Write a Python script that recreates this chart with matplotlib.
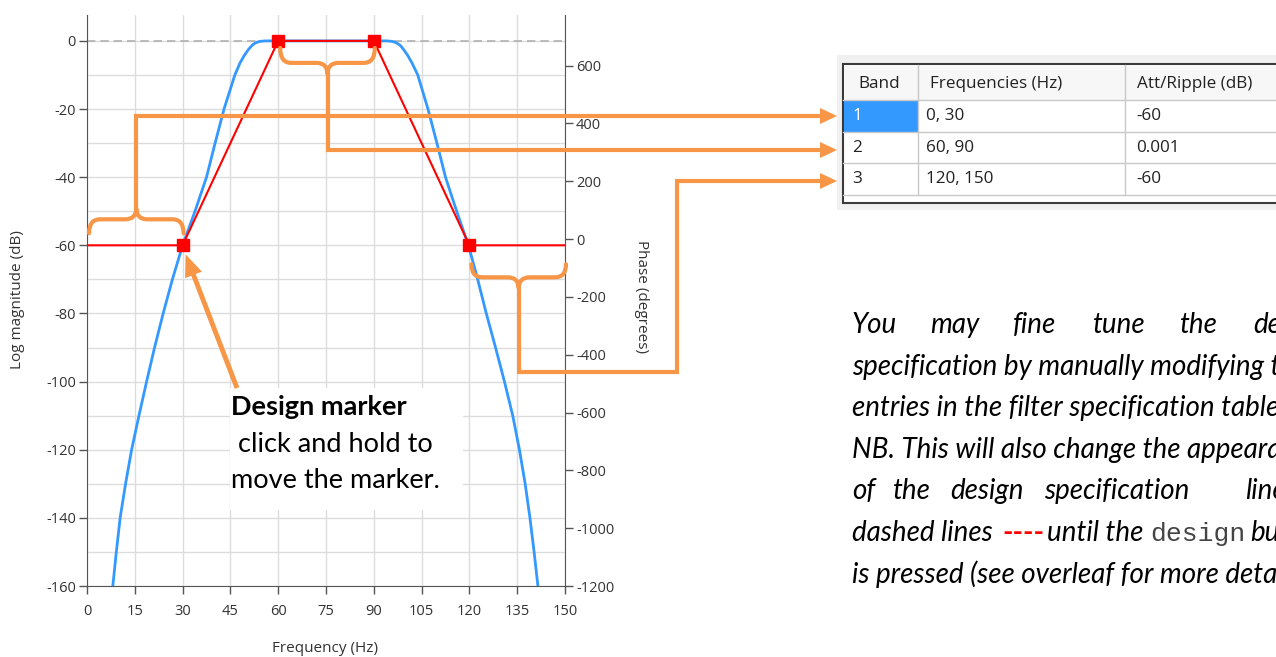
import matplotlib
matplotlib.use("Agg")
import matplotlib.pyplot as plt
from matplotlib.patches import Rectangle, Polygon, PathPatch
from matplotlib.path import Path

# design specification (red line + draggable markers)
spec_freq = [0, 30, 60, 90, 120, 150]
spec_mag = [-60, -60, 0, 0, -60, -60]
marker_freq = [30, 60, 90, 120]
marker_mag = [-60, 0, 0, -60]

# filter response (blue)
resp_freq = [8.1, 9.2, 10.4, 12.1, 14.0, 16.3, 18.7, 21.2, 23.9, 26.8, 30.0,
             33.9, 37.5, 40.2, 43.0, 44.7, 46.4, 48.0, 49.4, 50.6, 51.7, 52.8,
             54.2, 56.0, 60.0, 75.0, 90.0, 94.0, 95.8, 97.2, 98.4, 99.4, 100.6,
             102.0, 103.8, 105.4, 107.0, 109.8, 112.5, 116.0, 119.7, 122.6,
             125.3, 128.2, 131.0, 133.6, 135.7, 137.5, 139.0, 140.3, 141.5]
resp_mag = [-160, -150, -140, -130, -120, -110, -100, -90, -80, -70, -60,
            -50, -40, -30, -20, -15, -10, -6.5, -4.2, -2.6, -1.4, -0.6,
            -0.15, 0, 0, 0, 0, 0, -0.15, -0.6, -1.4, -2.6, -4.2,
            -6.5, -10, -15, -20, -30, -40, -50, -60, -70,
            -80, -90, -100, -110, -120, -130, -140, -150, -160]

# spec table
table_cols = ["Band", "Frequencies (Hz)", "Att/Ripple (dB)"]
band_ids = ["1", "2", "3"]
band_freqs = ["0, 30", "60, 90", "120, 150"]
band_att = ["-60", "0.001", "-60"]
band_edges = [(0, 30), (60, 90), (120, 150)]

W, H = 1276, 657
ORANGE = "#F79646"
TXT = "#333333"
plt.rcParams["font.family"] = ["Open Sans", "DejaVu Sans"]
plt.rcParams["axes.unicode_minus"] = False

fig = plt.figure(figsize=(W / 100, H / 100), dpi=100)
ax = fig.add_axes([87 / W, 71 / H, 478 / W, 571 / H])
ax.set_xlim(0, 150)
ax.set_ylim(-160, 7.6)
ax.set_xticks(range(0, 151, 15))
ax.set_yticks(range(-160, 1, 20))
ax.set_yticks(range(-150, 1, 20), minor=True)
ax.grid(True, which="both", color="#dcdcdc", lw=1)
ax.set_axisbelow(True)
ax.tick_params(which="major", length=6, width=1, color="#555555",
               labelcolor=TXT, labelsize=10.5, pad=2)
ax.tick_params(axis="x", pad=7)
ax.tick_params(which="minor", length=0)
for s in ["top", "right"]:
    ax.spines[s].set_visible(False)
for s in ["left", "bottom"]:
    ax.spines[s].set_color("#555555")

ax.axhline(0, color="#b0b0b0", lw=1.2, ls=(0, (5, 3)), zorder=1)
ax.plot(resp_freq, resp_mag, color="#3399FF", lw=2, zorder=3)
ax.plot(spec_freq, spec_mag, color="#FF0000", lw=1.5, zorder=4)
ax.plot(marker_freq, marker_mag, ls="none", marker="s", ms=9,
        color="#FF0000", zorder=5)

ax2 = ax.twinx()
ax2.set_ylim(-1200, 775)
ax2.set_yticks(range(-1200, 601, 200))
ax2.tick_params(length=6, width=1, color="#555555", labelcolor=TXT,
                labelsize=10.5, pad=2)
ax2.spines["top"].set_visible(False)
ax2.spines["left"].set_visible(False)
ax2.spines["bottom"].set_visible(False)
ax2.spines["right"].set_color("#555555")

# overlay in pixel coordinates for labels and annotations
ov = fig.add_axes([0, 0, 1, 1])
ov.set_xlim(0, W)
ov.set_ylim(H, 0)
ov.axis("off")
ov.patch.set_visible(False)


def px(x, y):
    X, Y = ax.transData.transform((x, y))
    return X, H - Y


ov.text(18, 300, "Log magnitude (dB)", rotation=90, ha="center", va="center",
        fontsize=11, color=TXT)
ov.text(325, 648, "Frequency (Hz)", ha="center", va="center",
        fontsize=11, color=TXT)
ov.text(641, 297, "Phase (degrees)", rotation=270, ha="center", va="center",
        fontsize=11, color=TXT)

# table
ov.add_patch(Rectangle((837, 55), 445, 155, color="#f0f0f0", lw=0))
ov.add_patch(Rectangle((843, 64), 440, 139, facecolor="white",
                       edgecolor="#3a3a3a", lw=1.5))
ov.add_patch(Rectangle((844, 65), 438, 35, facecolor="#f7f7f7", lw=0))
row_top = [100, 132, 163]
row_h = 31.5
col_x = [843, 918, 1125]
ov.add_patch(Rectangle((844, row_top[0]), 74, row_h, color="#3399ff", lw=0))
for y in row_top + [195]:
    ov.plot([843, W], [y, y], color="#c8c8c8", lw=1)
for x in col_x[1:]:
    ov.plot([x, x], [65, 195], color="#c8c8c8", lw=1)
hdr_x = [858, 930, 1137]
cell_x = [852, 926, 1136]
for x, t in zip(hdr_x, table_cols):
    ov.text(x, 84, t, ha="left", va="center", fontsize=12.3, color="#222222")
for i in range(3):
    yc = row_top[i] + row_h / 2
    vals = [band_ids[i], band_freqs[i], band_att[i]]
    for j, (x, t) in enumerate(zip(cell_x, vals)):
        c = "white" if (i == 0 and j == 0) else "#222222"
        ov.text(x, yc, t, ha="left", va="center", fontsize=12.3, color=c)


# braces and leads
def brace(x0, x1, y, s, h=13, r=11):
    xc = (x0 + x1) / 2
    verts = [(x0, y + s * h), (x0, y), (x0 + r, y), (xc - r, y), (xc, y),
             (xc, y - s * r),
             (xc, y), (xc + r, y), (x1 - r, y), (x1, y), (x1, y + s * h)]
    codes = [Path.MOVETO, Path.CURVE3, Path.CURVE3, Path.LINETO, Path.CURVE3,
             Path.CURVE3, Path.CURVE3, Path.CURVE3, Path.LINETO, Path.CURVE3,
             Path.CURVE3]
    ov.add_patch(PathPatch(Path(verts, codes), fill=False, edgecolor=ORANGE,
                           lw=3, capstyle="round", joinstyle="round"))
    return xc, y - s * r


def head(tip, dx, dy, length=17, half=8):
    tx, ty = tip
    bx, by = tx - dx * length, ty - dy * length
    nx, ny = -dy, dx
    ov.add_patch(Polygon([(tx, ty), (bx + nx * half, by + ny * half),
                          (bx - nx * half, by - ny * half)],
                         closed=True, color=ORANGE, lw=0))


arrow_y = [116, 150, 181]
tip_x = 837
offsets = [(-26, -12), (22, 7), (32, 19)]
for k, (f0, f1) in enumerate(band_edges):
    lx, ly = px(f0, spec_mag[2 * k])
    rx, _ = px(f1, spec_mag[2 * k])
    yb = ly + offsets[k][0]
    s = 1 if offsets[k][0] < 0 else -1
    h = abs(offsets[k][0] - offsets[k][1])
    cx, cy = brace(lx + 2, rx + 1, yb, s, h=h)
    if k < 2:
        xs = [cx, cx, tip_x - 15]
        ys = [cy, arrow_y[k], arrow_y[k]]
    else:
        xs = [cx, cx, 677, 677, tip_x - 15]
        ys = [cy, 372, 372, arrow_y[k], arrow_y[k]]
    ov.plot(xs, ys, color=ORANGE, lw=3, solid_joinstyle="miter",
            solid_capstyle="butt")
    head((tip_x, arrow_y[k]), 1, 0)

# design marker callout
ov.add_patch(Rectangle((230, 388), 233, 122, color="white", lw=0))
mx, my = px(marker_freq[0], marker_mag[0])
tip = (mx + 3, my + 9)
start = (237, 388)
d = ((tip[0] - start[0]) ** 2 + (tip[1] - start[1]) ** 2) ** 0.5
ux, uy = (tip[0] - start[0]) / d, (tip[1] - start[1]) / d
ov.plot([start[0], tip[0] - ux * 18], [start[1], tip[1] - uy * 18],
        color=ORANGE, lw=3.5, solid_capstyle="butt")
head(tip, ux, uy, length=22, half=9)

ffam = ["Lato", "DejaVu Sans"]
ov.text(231, 415, "Design marker", fontsize=19.5, fontweight="bold",
        family=ffam, va="baseline", color="black")
ov.text(231, 452, " click and hold to", fontsize=19.5, family=ffam,
        va="baseline", color="black")
ov.text(231, 488, "move the marker.", fontsize=19.5, family=ffam,
        va="baseline", color="black")

# note text on the right (clipped by the page edge)
it = dict(fontsize=20, family=ffam, style="italic", va="baseline",
          color="black")
for x, w in zip([852, 930, 1013, 1093, 1180, 1253],
                ["You", "may", "fine", "tune", "the", "design"]):
    ov.text(x, 333, w, **it)
ov.text(852, 375, "specification by manually modifying the", **it)
ov.text(852, 416, "entries in the filter specification table.", **it)
ov.text(852, 458, "NB. This will also change the appearance", **it)
for x, w in zip([852, 893, 950, 1044, 1245],
                ["of", "the", "design", "specification", "lines"]):
    ov.text(x, 499, w, **it)
ov.text(852, 541, "dashed lines", **it)
ov.text(1002, 541, "----", color="red", fontsize=20, family=ffam,
        fontweight="bold", va="baseline")
ov.text(1047, 541, "until the", **it)
ov.text(1150, 541, "design", fontsize=19, family=["Liberation Mono"],
        va="baseline", color="#444444")
ov.text(1250, 541, "button", **it)
ov.text(852, 583, "is pressed (see overleaf for more details).", **it)

fig.savefig("out.png", dpi=100)
